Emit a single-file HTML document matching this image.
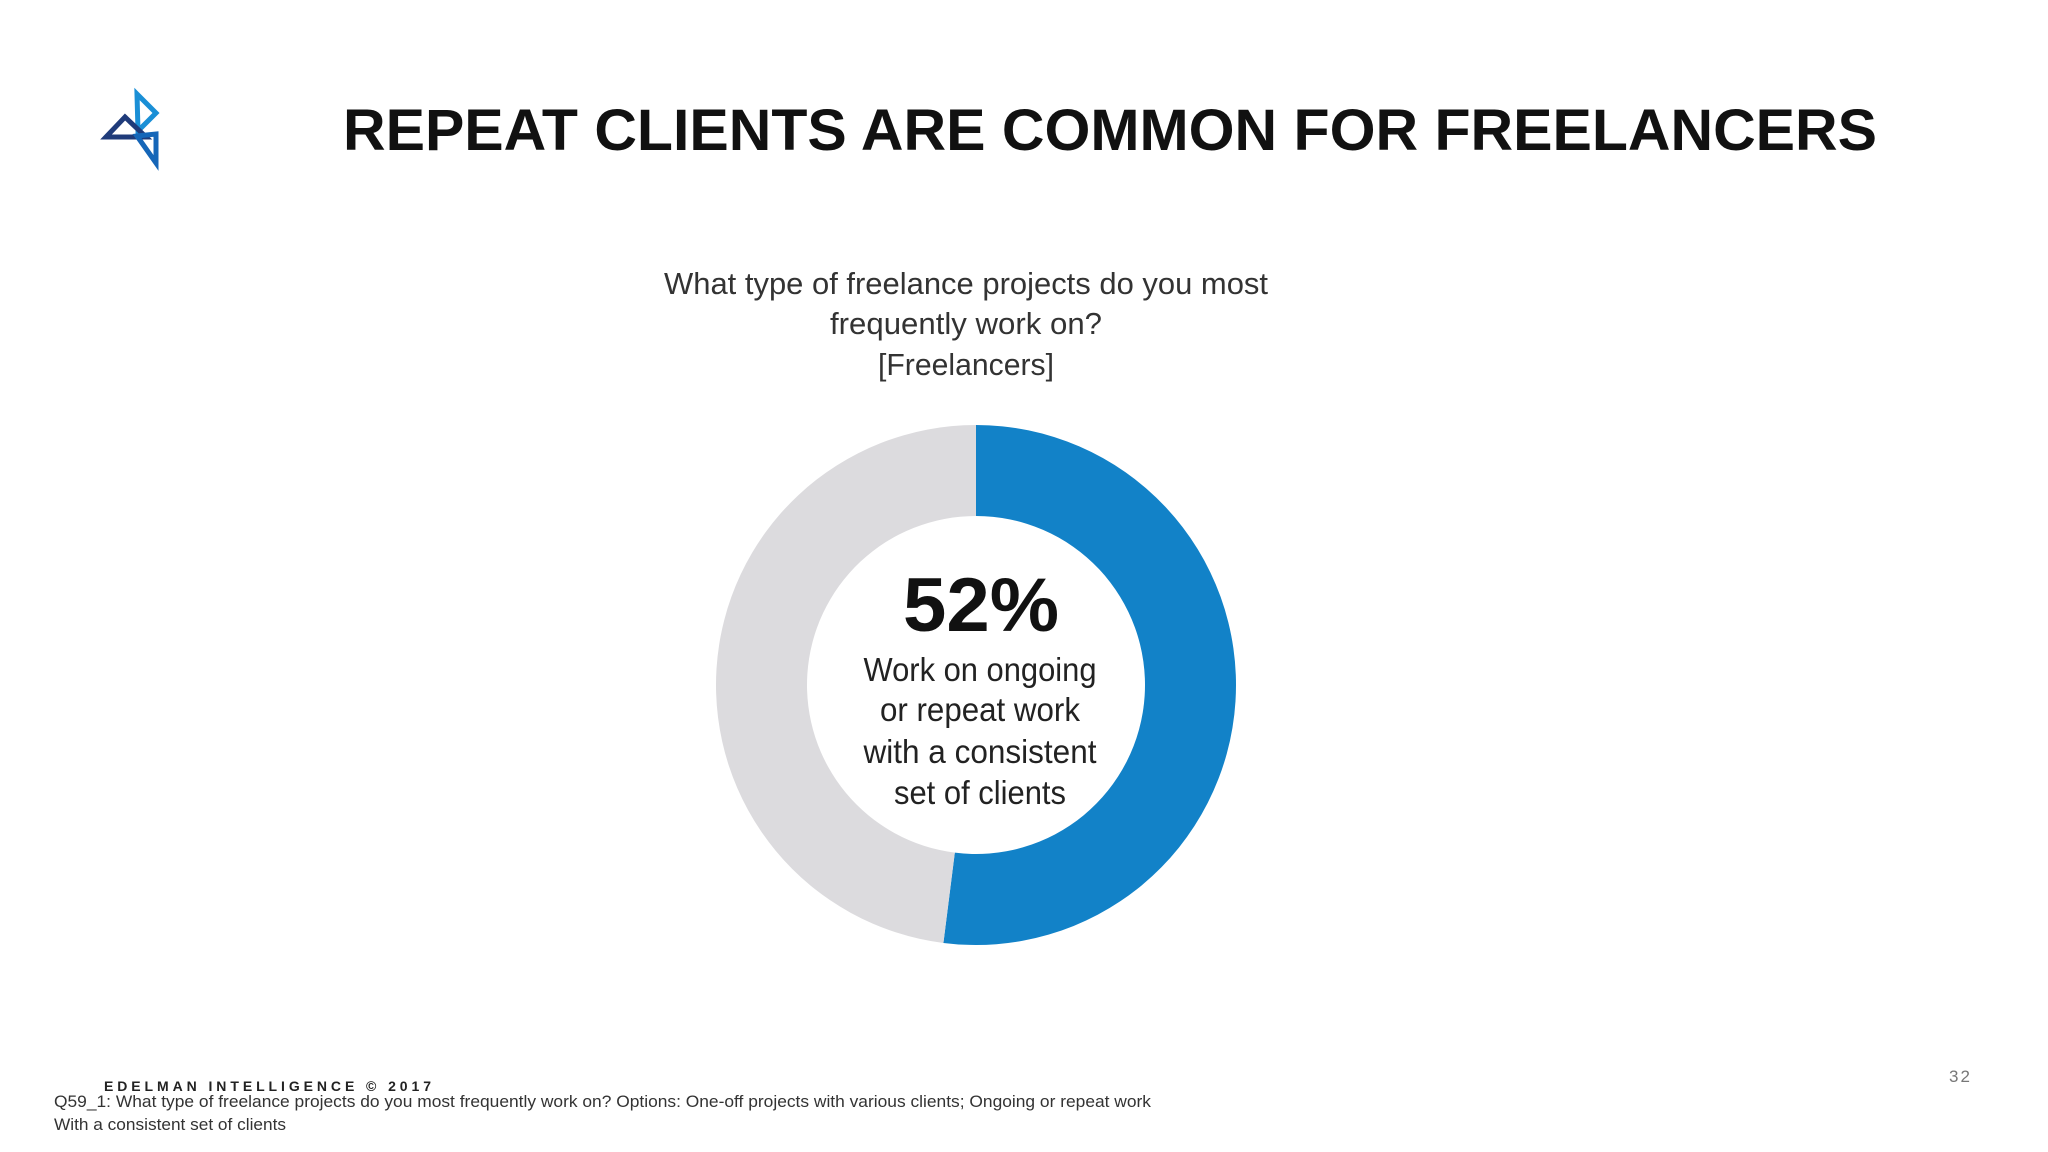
<!DOCTYPE html>
<html>
<head>
<meta charset="utf-8">
<style>
html,body{margin:0;padding:0;background:#fff;}
svg{display:block;}
</style>
</head>
<body>
<svg width="2048" height="1152" viewBox="0 0 2048 1152" xmlns="http://www.w3.org/2000/svg">
  <rect width="2048" height="1152" fill="#fff"/>
  <g fill="none" stroke-width="5" stroke-linejoin="miter">
    <polygon points="137,94 156,113 138,131" stroke="#1a8fd6"/>
    <polygon points="106,137 125,117 146,137" stroke="#1f3b7a"/>
    <polygon points="137,136 156,134 156,163" stroke="#1566b8"/>
  </g>
  <text x="343" y="150" font-family="Liberation Sans, sans-serif" font-weight="bold" font-size="58" fill="#111" textLength="1534" lengthAdjust="spacingAndGlyphs">REPEAT CLIENTS ARE COMMON FOR FREELANCERS</text>
  <g font-family="Liberation Sans, sans-serif" font-size="31" fill="#333" text-anchor="middle">
    <text x="966" y="294" textLength="604" lengthAdjust="spacingAndGlyphs">What type of freelance projects do you most</text>
    <text x="966" y="334" textLength="272" lengthAdjust="spacingAndGlyphs">frequently work on?</text>
    <text x="966" y="375" textLength="176" lengthAdjust="spacingAndGlyphs">[Freelancers]</text>
  </g>
  <g id="donut"></g>
  <text x="981" y="631" font-family="Liberation Sans, sans-serif" font-weight="bold" font-size="76" fill="#111" text-anchor="middle" textLength="156" lengthAdjust="spacingAndGlyphs">52%</text>
  <g font-family="Liberation Sans, sans-serif" font-size="33" fill="#222" text-anchor="middle">
    <text x="980" y="681" textLength="233" lengthAdjust="spacingAndGlyphs">Work on ongoing</text>
    <text x="980" y="721" textLength="200" lengthAdjust="spacingAndGlyphs">or repeat work</text>
    <text x="980" y="763" textLength="233" lengthAdjust="spacingAndGlyphs">with a consistent</text>
    <text x="980" y="804" textLength="172" lengthAdjust="spacingAndGlyphs">set of clients</text>
  </g>
  <text x="104" y="1091" font-family="Liberation Sans, sans-serif" font-weight="bold" font-size="14" fill="#222" textLength="327" lengthAdjust="spacing">EDELMAN INTELLIGENCE © 2017</text>
  <text x="54" y="1107" font-family="Liberation Sans, sans-serif" font-size="17" fill="#333" textLength="1097" lengthAdjust="spacingAndGlyphs">Q59_1: What type of freelance projects do you most frequently work on?  Options: One-off projects with various clients; Ongoing or repeat work</text>
  <text x="54" y="1130" font-family="Liberation Sans, sans-serif" font-size="17" fill="#333" textLength="232" lengthAdjust="spacingAndGlyphs">With a consistent set of clients</text>
  <text x="1949" y="1082" font-family="Liberation Sans, sans-serif" font-size="17" fill="#777" letter-spacing="2">32</text>
</svg>
<script>
const categories = ["Ongoing or repeat work", "One-off projects"];
const values = [52, 48];
const colors = ["#1282c8", "#dcdbde"];

(function(){
  const g = document.getElementById('donut');
  const cx = 976, cy = 685, rO = 260, rI = 169;
  const total = values.reduce((a,b)=>a+b,0);
  function ang(v){ return v / total * 2 * Math.PI; }
  function pt(r,a){ return [cx + r*Math.sin(a), cy - r*Math.cos(a)]; }
  let start = 0;
  values.forEach((v,i)=>{
    const end = start + ang(v);
    const large = (end - start) > Math.PI ? 1 : 0;
    const [x1,y1] = pt(rO,start), [x2,y2] = pt(rO,end);
    const [x3,y3] = pt(rI,end), [x4,y4] = pt(rI,start);
    const d = `M${x1},${y1} A${rO},${rO} 0 ${large} 1 ${x2},${y2} L${x3},${y3} A${rI},${rI} 0 ${large} 0 ${x4},${y4} Z`;
    const p = document.createElementNS('http://www.w3.org/2000/svg','path');
    p.setAttribute('d', d);
    p.setAttribute('fill', colors[i]);
    
    
    g.appendChild(p);
    start = end;
  });
})();
</script>
</body>
</html>
